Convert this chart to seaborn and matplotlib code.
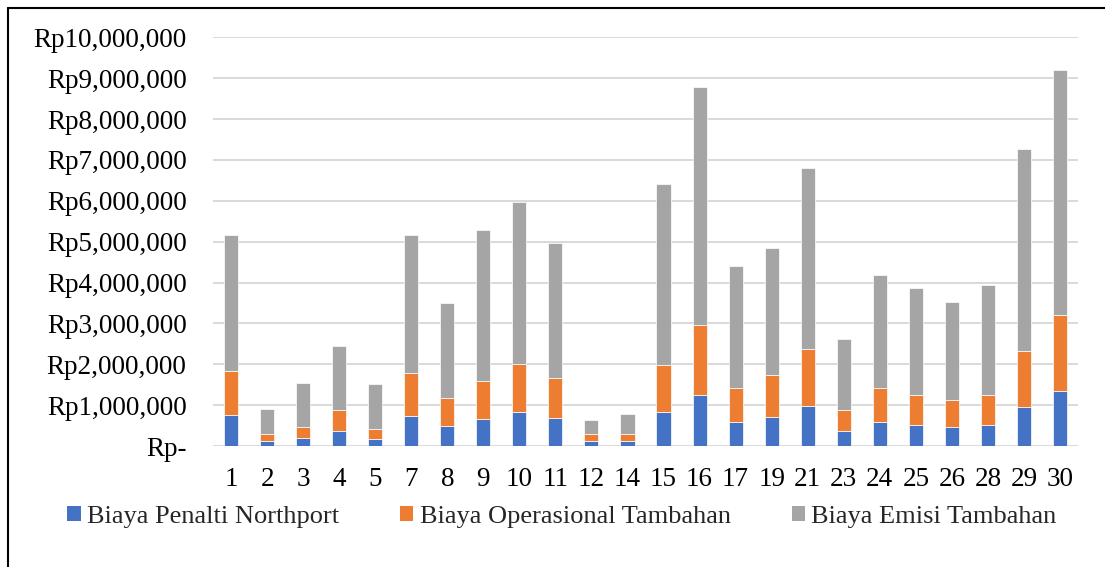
import pandas as pd
import matplotlib.pyplot as plt
import seaborn as sns
from matplotlib.lines import Line2D
from matplotlib.patches import Patch


periode = ['1', '2', '3', '4', '5', '7', '8', '9', '10', '11', '12', '14',
           '15', '16', '17', '19', '21', '23', '24', '25', '26', '28', '29', '30']
biaya_penalti = [760000, 115000, 190000, 360000, 160000, 740000, 480000, 670000,
                 840000, 690000, 115000, 115000, 820000, 1240000, 590000, 720000,
                 990000, 360000, 590000, 510000, 470000, 510000, 960000, 1340000]
biaya_operasional = [1080000, 175000, 270000, 530000, 250000, 1050000, 700000, 930000,
                     1170000, 970000, 175000, 175000, 1150000, 1730000, 840000, 1010000,
                     1390000, 530000, 840000, 730000, 650000, 730000, 1360000, 1870000]
biaya_emisi = [3320000, 620000, 1070000, 1550000, 1110000, 3370000, 2320000, 3680000,
               3960000, 3310000, 350000, 490000, 4440000, 5820000, 2980000, 3110000,
               4420000, 1740000, 2750000, 2630000, 2410000, 2700000, 4950000, 6000000]
seri = ['Biaya Penalti Northport', 'Biaya Operasional Tambahan', 'Biaya Emisi Tambahan']
warna = ['#4472C4', '#ED7D31', '#A5A5A5']
y_ticks = [0, 1000000, 2000000, 3000000, 4000000, 5000000,
           6000000, 7000000, 8000000, 9000000, 10000000]
y_labels = ['Rp-', 'Rp1,000,000', 'Rp2,000,000', 'Rp3,000,000', 'Rp4,000,000',
            'Rp5,000,000', 'Rp6,000,000', 'Rp7,000,000', 'Rp8,000,000',
            'Rp9,000,000', 'Rp10,000,000']

df = pd.DataFrame({'periode': periode, seri[0]: biaya_penalti,
                   seri[1]: biaya_operasional, seri[2]: biaya_emisi})

sns.set_theme(style='white')
plt.rcParams['font.family'] = ['Liberation Serif', 'DejaVu Serif']

fig = plt.figure(figsize=(11.05, 5.67), dpi=100)
ax = fig.add_axes([213 / 1105, 1 - 446 / 567, 865 / 1105, (446 - 37.3) / 567])

bawah = pd.Series(0, index=df.index)
for nama, c in zip(seri, warna):
    sns.barplot(data=df, x='periode', y=nama, order=periode, bottom=bawah,
                color=c, saturation=1, width=0.39, edgecolor='white',
                linewidth=0.5, ax=ax, zorder=3)
    bawah = bawah + df[nama]

ax.set_ylim(0, 10000000)
ax.set_xlim(-0.5, len(periode) - 0.5)
ax.set_yticks(y_ticks)
ax.set_yticklabels(y_labels)
ax.yaxis.grid(True, color='#D9D9D9', linewidth=1.4, zorder=0)
ax.set_axisbelow(True)
ax.set_xlabel('')
ax.set_ylabel('')
for s in ax.spines.values():
    s.set_visible(False)
ax.tick_params(axis='y', length=0, pad=19, labelsize=19.5, colors='black')
ax.tick_params(axis='x', length=0, pad=15, labelsize=19.5, colors='black')

handles = [Patch(facecolor=c, edgecolor='none') for c in warna]
fig.legend(handles, seri, loc='center', bbox_to_anchor=(562 / 1105, 1 - 517 / 567),
           ncol=3, frameon=False, fontsize=19, handlelength=0.5,
           handleheight=0.5, handletextpad=0.25, columnspacing=2.3)

# garis tepi kotak chart
fig.add_artist(Line2D([8 / 1105, 8 / 1105], [0, 1 - 8 / 567], color='black', lw=1.5))
fig.add_artist(Line2D([8 / 1105, 1], [1 - 8 / 567, 1 - 8 / 567], color='black', lw=1.5))

fig.savefig('out.png', dpi=100)
